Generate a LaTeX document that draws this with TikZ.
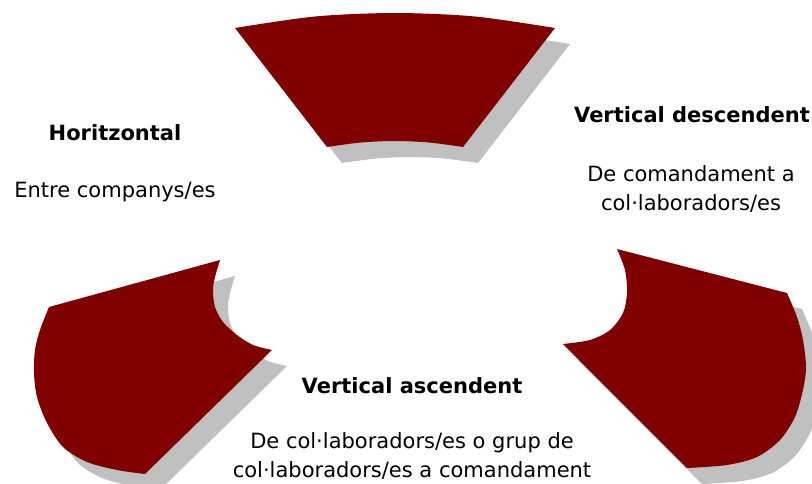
\documentclass[tikz,border=0pt]{standalone}
\usepackage{fontspec}
\setmainfont{DejaVu Sans}
\definecolor{petalred}{HTML}{800000}
\definecolor{shadowgray}{HTML}{C0C0C0}
\begin{document}
\begin{tikzpicture}[x=1pt,y=-1pt,
  petal/.style={fill=petalred},
  petalshadow/.style={fill=shadowgray},
  heading/.style={font=\fontsize{21}{29}\selectfont\bfseries, anchor=base, inner sep=0pt},
  body/.style={font=\fontsize{21}{29}\selectfont, anchor=base, align=center, inner sep=0pt}]
\useasboundingbox (0,0) rectangle (812,483);

% outlines of the three curved blocks
\def\topblock{(235,28) -- plot[smooth] coordinates {(235,28) (315,16.5) (395,13) (475,16.5) (555,28)}
  -- (463,147) -- plot[smooth] coordinates {(463,147) (429,142.5) (395,141) (361,142.5) (327,147)} -- cycle}
\def\leftblock{(220,260) -- (49,307) -- plot[smooth] coordinates {(49,307) (40,330) (35,350) (34,373) (37,397) (47,423) (63,447) (87,462) (117,470) (145,474)}
  -- (272,350) -- plot[smooth] coordinates {(272,350) (253,345) (237,335) (223,322) (215,307) (213,290) (215,277) (220,260)} -- cycle}
\def\rightblock{(617,249) -- (787,293) -- plot[smooth] coordinates {(787,293) (797,317) (803,340) (806,367) (803,390) (795,417) (780,440) (757,457) (727,465) (687,468)}
  -- (563,344) -- plot[smooth] coordinates {(563,344) (590,340) (610,330) (623,313) (627,293) (625,270) (617,249)} -- cycle}

% drop shadows
\begin{scope}[shift={(15,16)}]
  \fill[petalshadow] \topblock;
  \fill[petalshadow] \leftblock;
  \fill[petalshadow] \rightblock;
\end{scope}

% blocks
\fill[petal] \topblock;
\fill[petal] \leftblock;
\fill[petal] \rightblock;

% labels (multi-line nodes are placed by the baseline of their last line)
\node[heading] (hT) at (115,140) {Horitzontal};
\node[body] (hB) at (115,197) {Entre companys/es};

\node[heading] (dT) at (692,122) {Vertical descendent};
\node[body] (dB) at (691,210) {De comandament a\\col·laboradors/es};

\node[heading] (aT) at (412,393) {Vertical ascendent};
\node[body] (aB) at (412,477) {De col·laboradors/es o grup de\\col·laboradors/es a comandament};
\end{tikzpicture}
\end{document}
